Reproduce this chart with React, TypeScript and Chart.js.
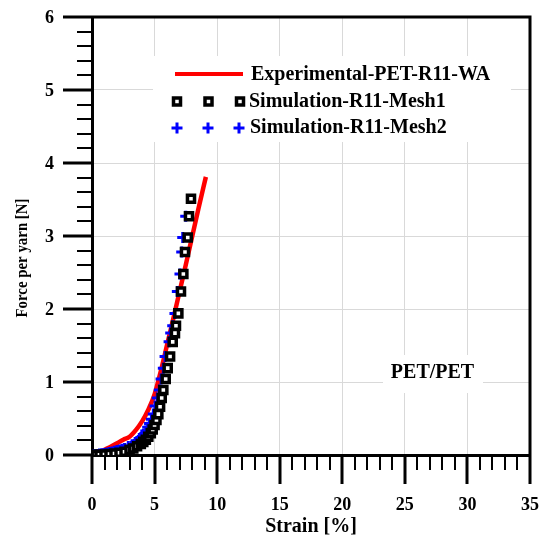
import React, { useEffect, useRef } from 'react';
import { Chart, registerables } from 'chart.js';

Chart.register(...registerables);

const FONT = '"Liberation Serif", "Times New Roman", serif';

// Experimental curve
const expStrain = [0, 1, 2, 2.5, 3, 3.5, 4, 4.5, 5, 5.5, 6, 6.5, 7, 7.5, 8, 8.5, 9.1];
const expForce = [0, 0.07, 0.16, 0.21, 0.25, 0.34, 0.46, 0.62, 0.83, 1.15, 1.51, 1.87, 2.24, 2.61, 2.99, 3.37, 3.81];

// Simulation Mesh1 (squares)
const mesh1Strain = [0, 0.3, 0.6, 1.0, 1.4, 1.8, 2.2, 2.6, 3.0, 3.3, 3.6, 3.9, 4.1, 4.3, 4.5, 4.7, 4.85, 5.0, 5.15, 5.3, 5.44, 5.57, 5.7, 5.89, 6.05, 6.24, 6.45, 6.63, 6.71, 6.9, 7.11, 7.3, 7.43, 7.65, 7.75, 7.91];
const mesh1Force = [0, 0.002, 0.004, 0.008, 0.013, 0.02, 0.03, 0.045, 0.07, 0.09, 0.12, 0.15, 0.18, 0.21, 0.25, 0.3, 0.35, 0.41, 0.48, 0.56, 0.66, 0.78, 0.89, 1.04, 1.19, 1.35, 1.55, 1.67, 1.77, 1.94, 2.24, 2.48, 2.78, 2.98, 3.27, 3.51];

// Simulation Mesh2 (plus)
const mesh2Strain = [0, 0.2, 0.4, 0.6, 0.8, 1.0, 1.2, 1.4, 1.6, 1.8, 2.0, 2.2, 2.4, 2.6, 2.9, 3.2, 3.45, 3.7, 3.9, 4.1, 4.3, 4.45, 4.6, 4.75, 4.9, 5.04, 5.22, 5.38, 5.52, 5.7, 5.84, 6.16, 6.29, 6.45, 6.63, 6.82, 7.03, 7.17, 7.25, 7.49];
const mesh2Force = [0, 0.004, 0.008, 0.012, 0.017, 0.022, 0.028, 0.035, 0.042, 0.05, 0.06, 0.07, 0.08, 0.09, 0.115, 0.14, 0.17, 0.2, 0.24, 0.28, 0.33, 0.38, 0.43, 0.49, 0.56, 0.67, 0.78, 0.89, 1.04, 1.19, 1.35, 1.55, 1.67, 1.77, 1.94, 2.24, 2.48, 2.78, 2.98, 3.27];

// Axis ticks
const xTickValues = [0, 5, 10, 15, 20, 25, 30, 35];
const xTickLabels = ['0', '5', '10', '15', '20', '25', '30', '35'];
const yTickValues = [0, 1, 2, 3, 4, 5, 6];
const yTickLabels = ['0', '1', '2', '3', '4', '5', '6'];

const legendLabels = ['Experimental-PET-R11-WA', 'Simulation-R11-Mesh1', 'Simulation-R11-Mesh2'];
const annotationText = 'PET/PET';
const xTitle = 'Strain [%]';
const yTitle = 'Force per yarn [N]';

const toPts = (xs: number[], ys: number[]) => xs.map((v, i) => ({ x: v, y: ys[i] }));

const decorPlugin = {
  id: 'decor',
  afterDatasetsDraw(chart: any) {
    const { ctx } = chart;
    ctx.save();
    // legend box
    ctx.fillStyle = '#fff';
    ctx.fillRect(153, 56, 358, 86);
    // legend samples
    ctx.strokeStyle = '#ff0000';
    ctx.lineWidth = 4;
    ctx.beginPath();
    ctx.moveTo(175, 74);
    ctx.lineTo(243, 74);
    ctx.stroke();
    // squares
    ctx.strokeStyle = '#000';
    ctx.lineWidth = 3.5;
    for (const cx of [177, 208.5, 240]) {
      ctx.fillStyle = '#fff';
      ctx.beginPath();
      ctx.rect(cx - 3.5, 101.5 - 3.5, 7, 7);
      ctx.fill();
      ctx.stroke();
    }
    // pluses
    ctx.strokeStyle = '#0000ff';
    ctx.lineWidth = 3;
    for (const cx of [177, 208, 239]) {
      ctx.beginPath();
      ctx.moveTo(cx - 5.5, 128);
      ctx.lineTo(cx + 5.5, 128);
      ctx.moveTo(cx, 122.5);
      ctx.lineTo(cx, 133.5);
      ctx.stroke();
    }
    ctx.fillStyle = '#000';
    ctx.font = `bold 20px ${FONT}`;
    ctx.textBaseline = 'middle';
    ctx.textAlign = 'left';
    ctx.fillText(legendLabels[0], 251, 74.5);
    ctx.fillText(legendLabels[1], 249, 101.5);
    ctx.fillText(legendLabels[2], 250, 128);

    // PET/PET annotation
    ctx.fillStyle = '#fff';
    ctx.fillRect(383, 355, 100, 38);
    ctx.fillStyle = '#000';
    ctx.textAlign = 'center';
    ctx.fillText(annotationText, 432.5, 373);
    ctx.restore();
  },
  afterDraw(chart: any) {
    const { ctx, chartArea: a, scales } = chart;
    const xs = scales.x;
    const ys = scales.y;
    ctx.save();
    ctx.strokeStyle = '#000';
    // minor ticks
    ctx.lineWidth = 2;
    ctx.beginPath();
    for (let v = 1; v < 35; v++) {
      if (v % 5 === 0) continue;
      const px = Math.round(xs.getPixelForValue(v));
      ctx.moveTo(px, a.bottom);
      ctx.lineTo(px, a.bottom + 15);
    }
    for (let k = 1; k < 30; k++) {
      if (k % 5 === 0) continue;
      const py = Math.round(ys.getPixelForValue(k / 5));
      ctx.moveTo(a.left - 15, py);
      ctx.lineTo(a.left, py);
    }
    ctx.stroke();
    // major ticks
    ctx.lineWidth = 3;
    ctx.beginPath();
    xTickValues.forEach((v) => {
      const px = Math.round(xs.getPixelForValue(v));
      ctx.moveTo(px, a.bottom);
      ctx.lineTo(px, a.bottom + 29);
    });
    yTickValues.forEach((v) => {
      const py = Math.round(ys.getPixelForValue(v));
      ctx.moveTo(a.left - 29, py);
      ctx.lineTo(a.left, py);
    });
    ctx.stroke();
    // top / right border
    ctx.lineWidth = 3;
    ctx.beginPath();
    ctx.moveTo(a.left, a.top);
    ctx.lineTo(a.right, a.top);
    ctx.lineTo(a.right, a.bottom);
    ctx.stroke();
    // tick labels
    ctx.fillStyle = '#000';
    ctx.font = `bold 18px ${FONT}`;
    ctx.textBaseline = 'middle';
    ctx.textAlign = 'center';
    xTickValues.forEach((v, i) => {
      ctx.fillText(xTickLabels[i], xs.getPixelForValue(v), 505);
    });
    ctx.textAlign = 'right';
    yTickValues.forEach((v, i) => {
      ctx.fillText(yTickLabels[i], 54, ys.getPixelForValue(v) + 1);
    });
    // x title
    ctx.font = `bold 20px ${FONT}`;
    ctx.textAlign = 'center';
    ctx.fillText(xTitle, (a.left + a.right) / 2, 527);
    // y title (condensed)
    ctx.font = `bold 17px ${FONT}`;
    const w = ctx.measureText(yTitle).width;
    ctx.translate(23, 258);
    ctx.rotate(-Math.PI / 2);
    ctx.scale(119 / w, 1);
    ctx.fillText(yTitle, 0, 0);
    ctx.restore();
  },
};

export default function App() {
  const ref = useRef<HTMLCanvasElement | null>(null);
  useEffect(() => {
    if (!ref.current) return;
    const chart = new Chart(ref.current, {
      type: 'scatter',
      data: {
        datasets: [
          {
            label: legendLabels[0],
            data: toPts(expStrain, expForce),
            showLine: true,
            borderColor: '#ff0000',
            backgroundColor: '#ff0000',
            borderWidth: 4.5,
            pointRadius: 0,
            cubicInterpolationMode: 'monotone',
            order: 3,
          },
          {
            label: legendLabels[2],
            data: toPts(mesh2Strain, mesh2Force),
            showLine: false,
            pointStyle: 'cross',
            pointRadius: 5.5,
            borderWidth: 3,
            borderColor: '#0000ff',
            backgroundColor: '#0000ff',
            order: 2,
          },
          {
            label: legendLabels[1],
            data: toPts(mesh1Strain, mesh1Force),
            showLine: false,
            pointStyle: 'rect',
            pointRadius: 5,
            borderWidth: 3.5,
            borderColor: '#000',
            backgroundColor: '#fff',
            order: 1,
          },
        ],
      },
      options: {
        responsive: false,
        animation: false,
        events: [],
        layout: { padding: { left: 0, top: 17, right: 11, bottom: 0 } },
        plugins: { legend: { display: false }, tooltip: { enabled: false }, title: { display: false } },
        scales: {
          x: {
            type: 'linear',
            min: 0,
            max: 35,
            afterFit: (s: any) => { s.height = 81; },
            ticks: { stepSize: 5, display: false },
            grid: { color: '#d9d9d9', lineWidth: 1, drawTicks: false },
            border: { display: true, color: '#000', width: 3 },
          },
          y: {
            type: 'linear',
            min: 0,
            max: 6,
            afterFit: (s: any) => { s.width = 92; },
            ticks: { stepSize: 1, display: false },
            grid: { color: '#d9d9d9', lineWidth: 1, drawTicks: false },
            border: { display: true, color: '#000', width: 3 },
          },
        },
      },
      plugins: [decorPlugin],
    } as any);
    return () => chart.destroy();
  }, []);
  return (
    <div style={{ position: 'fixed', left: 0, top: 0, width: 541, height: 536, background: '#fff' }}>
      <canvas ref={ref} width={541} height={536} style={{ display: 'block' }} />
    </div>
  );
}
